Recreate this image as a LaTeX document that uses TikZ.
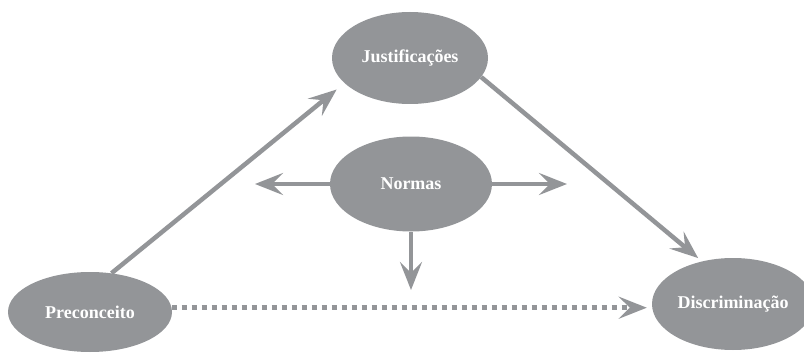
\documentclass[tikz,border=0pt]{standalone}
\usepackage{fontspec}
\setmainfont{Liberation Serif}
\usetikzlibrary{shapes.geometric}
\usetikzlibrary{arrows.meta}

\definecolor{cinza}{RGB}{147,149,152}

\tikzset{
  elipse/.style={ellipse,fill=cinza,inner sep=0pt,text=white,
    font=\fontsize{18}{21}\selectfont\bfseries},
  seta/.style={draw=cinza,line width=4.5pt,
    -{Stealth[length=28pt,width=22pt,inset=11pt]}},
  tracejada/.style={seta,line width=5pt,dash pattern=on 5pt off 5pt}
}

\begin{document}
\begin{tikzpicture}[x=1pt,y=-1pt]
 \useasboundingbox (0,0) rectangle (804,353);
 \node[elipse,minimum width=156pt,minimum height=92pt] (just) at (410,58) {Justificações};
 \node[elipse,minimum width=162pt,minimum height=95pt] (norm) at (411,184) {Normas};
 \node[elipse,minimum width=164pt,minimum height=80pt] (prec) at (90,312) {Preconceito};
 \node[elipse,minimum width=162pt,minimum height=92pt] (disc) at (733,304) {Discriminação};
 \coordinate (normE) at (255,184);
 \coordinate (normD) at (567,184);
 \coordinate (normB) at (411,290);
 \draw[seta,shorten >=10pt] (prec.61) -- (just.201);
 \draw[seta,shorten >=5pt] (just.345) -- (disc.126);
 \draw[seta] (norm.west) -- (normE);
 \draw[seta] (norm.east) -- (normD);
 \draw[seta] (norm.south) -- (normB);
 \draw[tracejada,shorten >=5pt] (prec.3) -- (prec.3 -| disc.west);
\end{tikzpicture}
\end{document}
